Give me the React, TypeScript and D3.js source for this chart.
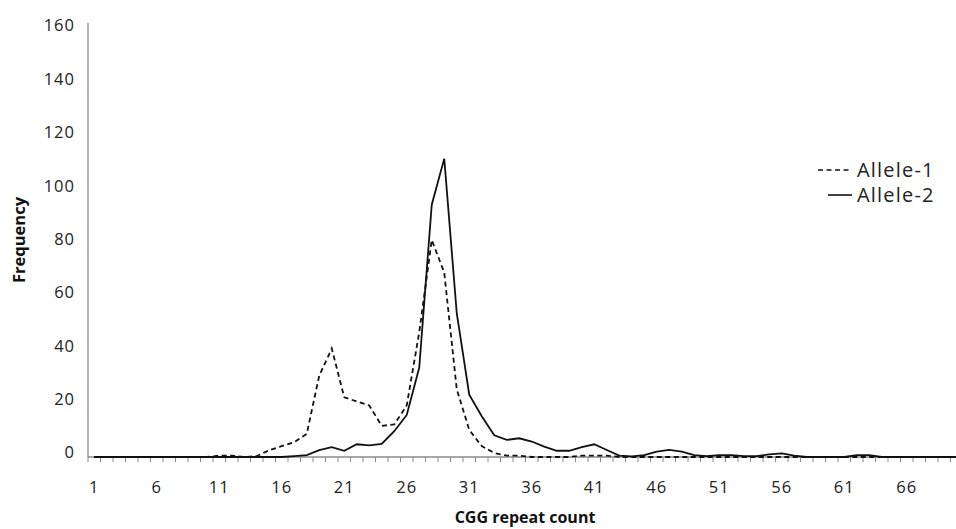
import React from "react";
import * as d3 from "d3";

const categories: number[] = Array.from({ length: 70 }, (_, i) => i + 1);

// Allele-1 (dashed) frequencies for CGG repeat counts 1..70
const allele1: number[] = [
  0, 0, 0, 0, 0, 0, 0, 0, 0, 0,
  0.5, 0.5, 0, 0.3, 2.5, 4, 5.5, 8.5, 30, 40,
  22, 20.5, 19, 11.5, 12, 19, 46, 80, 68, 25,
  10, 4, 1.5, 0.5, 0.5, 0, 0, 0, 0, 0.5,
  0.5, 0.5, 0, 0, 0, 0, 0, 0, 0, 0,
  0, 0, 0, 0, 0, 0, 0, 0, 0, 0,
  0, 0, 0, 0, 0, 0, 0, 0, 0, 0,
];

// Allele-2 (solid) frequencies for CGG repeat counts 1..70
const allele2: number[] = [
  0, 0, 0, 0, 0, 0, 0, 0, 0, 0,
  0, 0, 0, 0, 0, 0, 0.3, 0.7, 2.5, 3.6,
  2.3, 4.7, 4.3, 4.8, 9.5, 15.5, 33, 93, 110, 53,
  23, 15, 8, 6.3, 6.9, 5.7, 3.8, 2.3, 2.3, 3.6,
  4.7, 2.6, 0.5, 0.2, 0.7, 2, 2.6, 2, 0.7, 0.3,
  0.7, 0.7, 0.3, 0.3, 1, 1.3, 0.5, 0, 0, 0,
  0, 0.7, 0.7, 0, 0, 0, 0, 0, 0, 0,
];

const yTicks: number[] = [0, 20, 40, 60, 80, 100, 120, 140, 160];
const xTickLabels: number[] = [1, 6, 11, 16, 21, 26, 31, 36, 41, 46, 51, 56, 61, 66];
const seriesNames: string[] = ["Allele-1", "Allele-2"];

const W = 956;
const H = 529;
const left = 88;
const top = 23;
const bottom = 457;
const font = "'Open Sans', 'Noto Sans', sans-serif";

export default function App() {
  const x = d3
    .scaleBand<number>()
    .domain(categories)
    .range([left, left + 12.5 * categories.length])
    .padding(0);
  const y = d3.scaleLinear().domain([0, 160]).range([bottom, top]);
  const yLabel = d3.scaleLinear().domain([0, 160]).range([452.5, 25.5]);
  const cx = (c: number) => (x(c) as number) + x.bandwidth() / 2;

  const line = d3
    .line<number>()
    .x((_, i) => cx(categories[i]))
    .y((d) => y(d))
    .curve(d3.curveLinear);

  const axisColor = "#8a8a8a";
  const tickBounds = [...categories.map((c) => x(c) as number), x.range()[1]];

  return (
    <svg
      width={W}
      height={H}
      style={{ position: "absolute", left: 0, top: 0, background: "#fff" }}
    >
      {/* y axis */}
      <line x1={left} x2={left} y1={top} y2={bottom} stroke={axisColor} strokeWidth={1.3} />
      {yTicks.map((t) => (
        <text
          key={t}
          x={75}
          y={yLabel(t)}
          dy="0.36em"
          textAnchor="end"
          fontFamily={font}
          fontSize={16.5}
          letterSpacing={1}
          fill="#222"
        >
          {t}
        </text>
      ))}
      {/* x axis */}
      <line x1={left} x2={x.range()[1]} y1={bottom} y2={bottom} stroke={axisColor} strokeWidth={1.3} />
      {tickBounds.map((b, i) => (
        <line key={i} x1={b} x2={b} y1={bottom} y2={bottom + 5} stroke={axisColor} strokeWidth={1} />
      ))}
      {xTickLabels.map((t) => (
        <text
          key={t}
          x={cx(t)}
          y={493}
          textAnchor="middle"
          fontFamily={font}
          fontSize={16.5}
          letterSpacing={1}
          fill="#222"
        >
          {t}
        </text>
      ))}
      {/* axis titles */}
      <text
        transform={`translate(25,${240}) rotate(-90)`}
        textAnchor="middle"
        fontFamily={font}
        fontSize={16.5}
        fontWeight="bold"
        fill="#111"
      >
        Frequency
      </text>
      <text
        x={525}
        y={523}
        textAnchor="middle"
        fontFamily={font}
        fontSize={16}
        fontWeight="bold"
        fill="#111"
      >
        CGG repeat count
      </text>
      {/* series */}
      <path d={line(allele1) || ""} fill="none" stroke="#111" strokeWidth={1.8} strokeDasharray="5,3.5" />
      <path d={line(allele2) || ""} fill="none" stroke="#111" strokeWidth={1.8} />
      {/* legend */}
      <line x1={818} x2={852} y1={170} y2={170} stroke="#111" strokeWidth={1.6} strokeDasharray="5,3.5" />
      <text x={857} y={170} dy="0.35em" fontFamily={font} fontSize={20} letterSpacing={1.2} fill="#222">
        {seriesNames[0]}
      </text>
      <line x1={828} x2={852} y1={195} y2={195} stroke="#111" strokeWidth={1.6} />
      <text x={857} y={195} dy="0.35em" fontFamily={font} fontSize={20} letterSpacing={1.2} fill="#222">
        {seriesNames[1]}
      </text>
    </svg>
  );
}
